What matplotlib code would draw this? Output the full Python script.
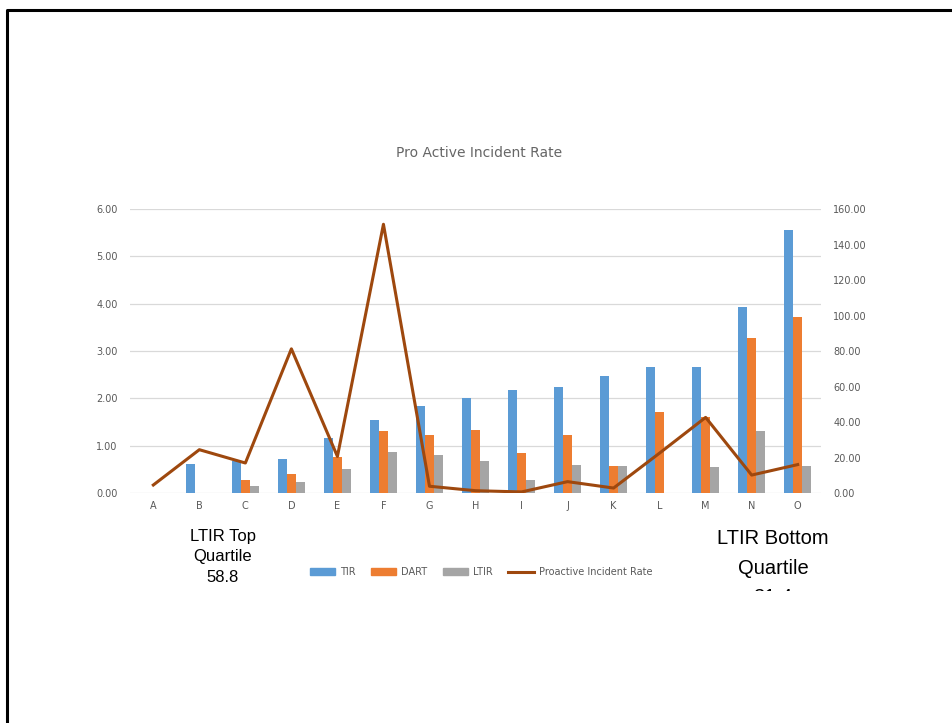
import matplotlib
matplotlib.use("Agg")
import matplotlib.pyplot as plt
import numpy as np
from matplotlib.patches import Patch, Rectangle
from matplotlib.lines import Line2D

categories = ["A", "B", "C", "D", "E", "F", "G", "H", "I", "J", "K", "L", "M", "N", "O"]
tir = [0, 0.61, 0.67, 0.72, 1.16, 1.54, 1.83, 2.00, 2.18, 2.23, 2.47, 2.66, 2.67, 3.93, 5.56]
dart = [0, 0, 0.28, 0.40, 0.76, 1.31, 1.22, 1.33, 0.84, 1.22, 0.58, 1.72, 1.60, 3.28, 3.71]
ltir = [0, 0, 0.14, 0.24, 0.50, 0.87, 0.81, 0.67, 0.28, 0.59, 0.58, 0, 0.54, 1.32, 0.56]
proactive = [4.5, 24.4, 16.9, 81.2, 20.6, 151.4, 3.8, 1.3, 0.6, 6.4, 2.8, 22.5, 42.6, 10.1, 16.0]

c_tir = "#5B9BD5"
c_dart = "#ED7D31"
c_ltir = "#A5A5A5"
c_line = "#9E480E"
grey = "#595959"

fig = plt.figure(figsize=(9.53, 7.23), dpi=100)
fig.patch.set_facecolor("white")

# slide border (top and left edges only)
fig.add_artist(Line2D([7/953, 7/953, 1.0], [0.0, 1 - 10/723, 1 - 10/723],
                      transform=fig.transFigure, color="black", lw=2.2))

ax = fig.add_axes([130.3/953, 1 - 493/723, 690.4/953, 284/723])
x = np.arange(len(categories))
w = 0.195
ax.bar(x - w, tir, w, color=c_tir, zorder=2)
ax.bar(x, dart, w, color=c_dart, zorder=2)
ax.bar(x + w, ltir, w, color=c_ltir, zorder=2)
ax.set_xlim(-0.5, len(categories) - 0.5)
ax.set_ylim(0, 6)
ax.set_yticks(np.arange(0, 7, 1))
ax.set_yticklabels([f"{v:.2f}" for v in np.arange(0, 7, 1)])
ax.set_xticks(x)
ax.set_xticklabels(categories)
ax.grid(axis="y", color="#D9D9D9", lw=0.9, zorder=0)
ax.set_axisbelow(True)
for s in ax.spines.values():
    s.set_visible(False)
ax.tick_params(length=0, colors=grey, labelsize=7, pad=9)
ax.tick_params(axis="x", pad=6)

ax2 = ax.twinx()
ax2.plot(x, proactive, color=c_line, lw=2.2, zorder=3)
ax2.set_ylim(0, 160)
ax2.set_yticks(np.arange(0, 161, 20))
ax2.set_yticklabels([f"{v:.2f}" for v in np.arange(0, 161, 20)])
for s in ax2.spines.values():
    s.set_visible(False)
ax2.tick_params(length=0, colors=grey, labelsize=7, pad=9)

fig.text(479/953, 1 - 153/723, "Pro Active Incident Rate", ha="center", va="center",
         fontsize=10, color="#666666")

handles = [Patch(color=c_tir), Patch(color=c_dart), Patch(color=c_ltir),
           Line2D([0], [0], color=c_line, lw=2.2)]
labels = ["TIR", "DART", "LTIR", "Proactive Incident Rate"]
fig.legend(handles, labels, loc="center", bbox_to_anchor=(481/953, 1 - 572/723), ncol=4,
           frameon=False, fontsize=7, labelcolor=grey, handlelength=2.6, handleheight=0.7,
           handletextpad=0.5, columnspacing=1.6)

fig.text(223/953, 1 - 557/723, "LTIR Top\nQuartile\n58.8", ha="center", va="center",
         fontsize=12, color="black", family="Liberation Sans", linespacing=1.5)
fig.text(773/953, 1 - 568/723, "LTIR Bottom\nQuartile\n31.4", ha="center", va="center",
         fontsize=14.5, color="black", family="Liberation Sans", linespacing=1.68)
# the lower annotation is cut off in the original
fig.add_artist(Rectangle((690/953, 1 - 615/723), 170/953, 24/723, transform=fig.transFigure,
                         facecolor="white", edgecolor="none", zorder=10))

fig.savefig("out.png", dpi=100)
